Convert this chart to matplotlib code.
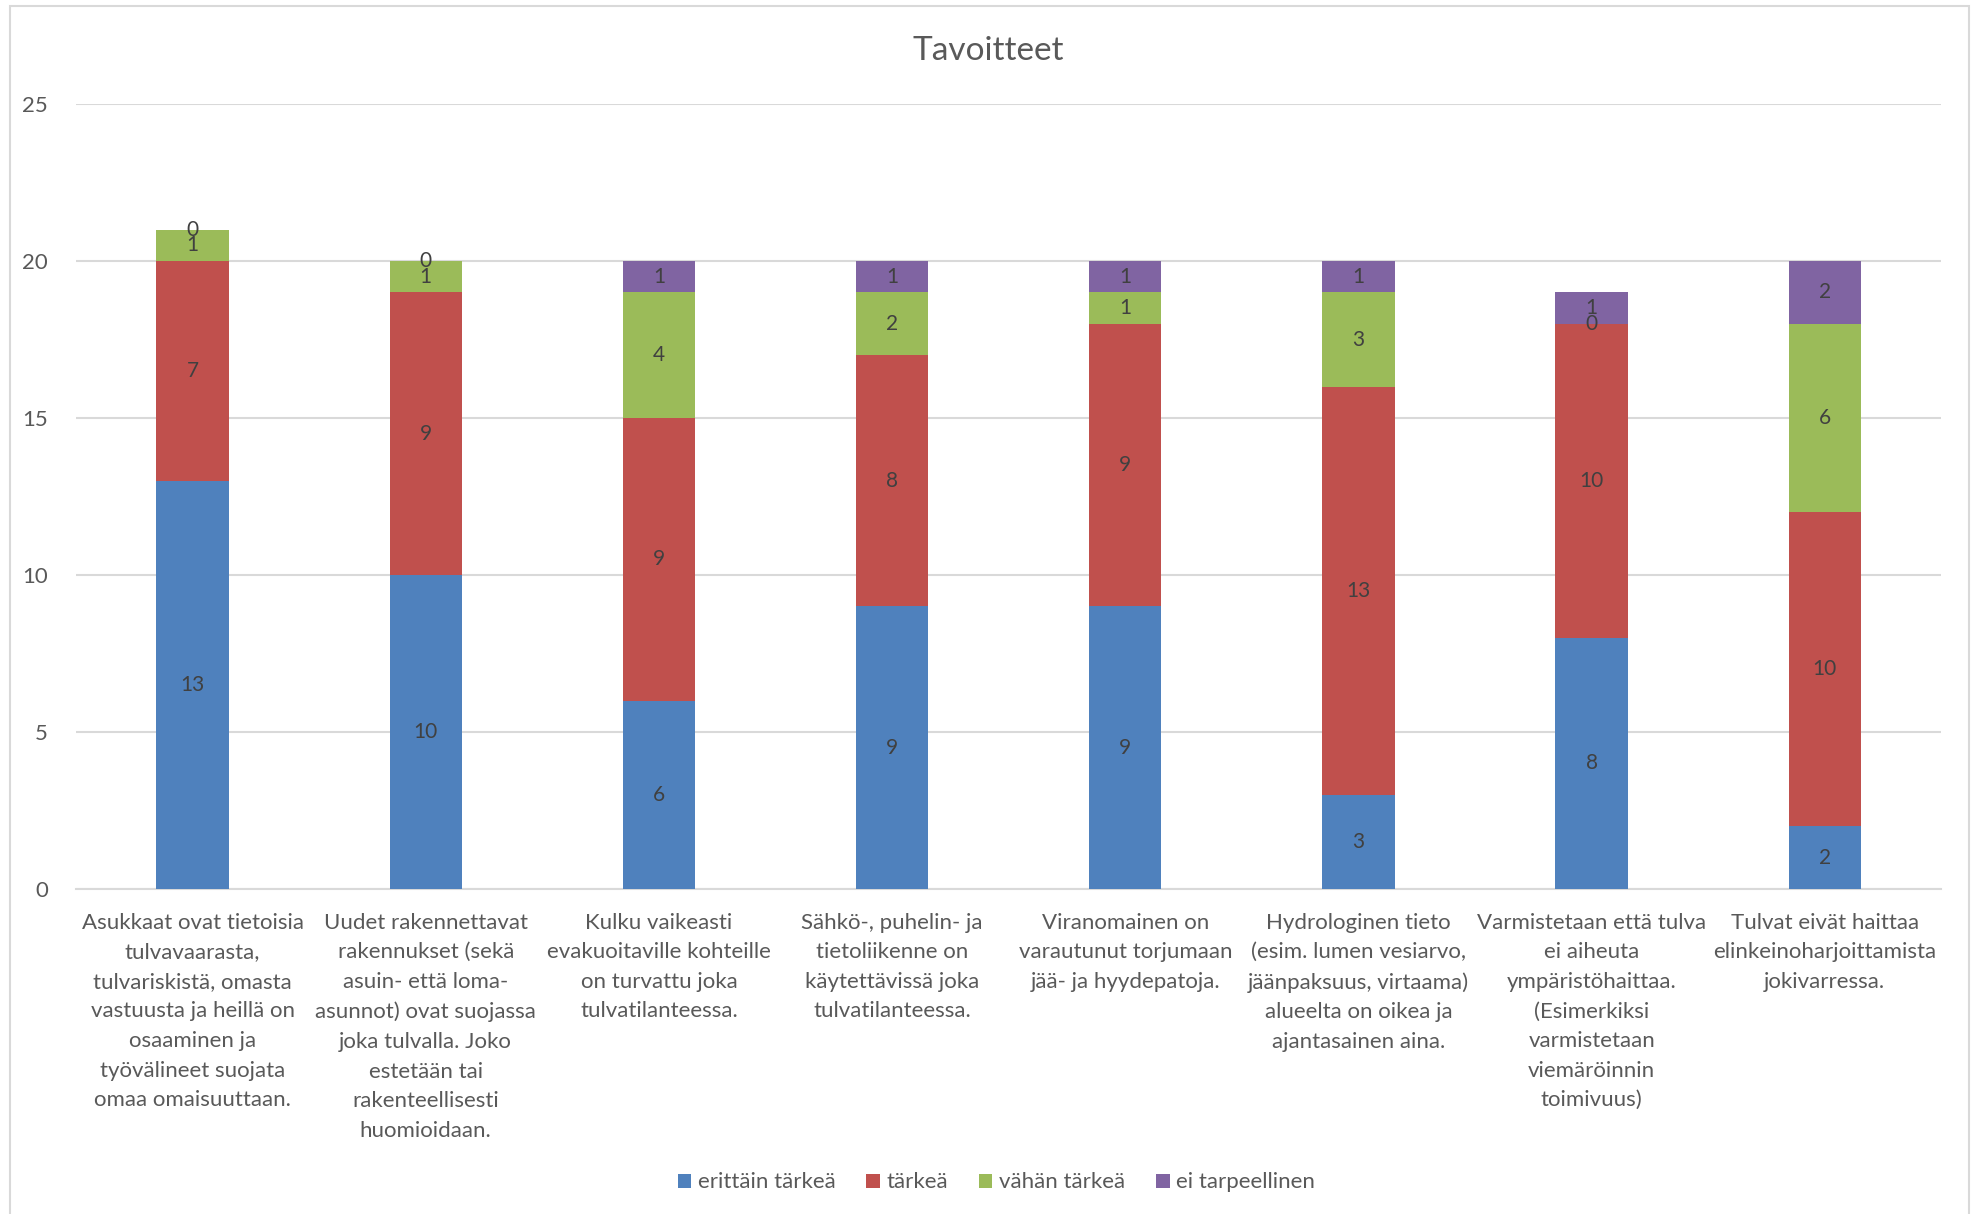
import numpy as np
import matplotlib.pyplot as plt
from matplotlib.patches import Rectangle

plt.rcParams['font.family'] = ['Lato', 'DejaVu Sans']

categories = [
    "Asukkaat ovat tietoisia\ntulvavaarasta,\ntulvariskistä, omasta\nvastuusta ja heillä on\nosaaminen ja\ntyövälineet suojata\nomaa omaisuuttaan.",
    "Uudet rakennettavat\nrakennukset (sekä\nasuin- että loma-\nasunnot) ovat suojassa\njoka tulvalla. Joko\nestetään tai\nrakenteellisesti\nhuomioidaan.",
    "Kulku vaikeasti\nevakuoitaville kohteille\non turvattu joka\ntulvatilanteessa.",
    "Sähkö-, puhelin- ja\ntietoliikenne on\nkäytettävissä joka\ntulvatilanteessa.",
    "Viranomainen on\nvarautunut torjumaan\njää- ja hyydepatoja.",
    "Hydrologinen tieto\n(esim. lumen vesiarvo,\njäänpaksuus, virtaama)\nalueelta on oikea ja\najantasainen aina.",
    "Varmistetaan että tulva\nei aiheuta\nympäristöhaittaa.\n(Esimerkiksi\nvarmistetaan\nviemäröinnin\ntoimivuus)",
    "Tulvat eivät haittaa\nelinkeinoharjoittamista\njokivarressa.",
]
series_names = ["erittäin tärkeä", "tärkeä", "vähän tärkeä", "ei tarpeellinen"]
erittain_tarkea = [13, 10, 6, 9, 9, 3, 8, 2]
tarkea = [7, 9, 9, 8, 9, 13, 10, 10]
vahan_tarkea = [1, 1, 4, 2, 1, 3, 0, 6]
ei_tarpeellinen = [0, 0, 1, 1, 1, 1, 1, 2]
colors = ["#4F81BD", "#C0504D", "#9BBB59", "#8064A2"]

text_col = "#595959"
label_col = "#404040"
grid_col = "#D9D9D9"

fig = plt.figure(figsize=(19.77, 12.14), dpi=100)
ax = fig.add_axes([0.0384, 0.2677, 0.9436, 0.6466])

# chart frame
fig.patches.append(Rectangle((0.005, -0.01), 0.991, 1.005, transform=fig.transFigure,
                             fill=False, edgecolor=grid_col, linewidth=1.5))

x = np.arange(len(categories))
bottom = np.zeros(len(categories))
for name, vals, c in zip(series_names, [erittain_tarkea, tarkea, vahan_tarkea, ei_tarpeellinen], colors):
    vals = np.array(vals, dtype=float)
    ax.bar(x, vals, width=0.31, bottom=bottom, color=c, label=name, zorder=3)
    for xi, b, v in zip(x, bottom, vals):
        ax.text(xi, b + v / 2, f"{int(v)}", ha="center", va="center",
                fontsize=15, color=label_col, zorder=4)
    bottom += vals

ax.set_xlim(-0.5, len(categories) - 0.5)
ax.set_ylim(0, 25)
ax.set_yticks([0, 5, 10, 15, 20, 25])
ax.yaxis.grid(True, color=grid_col, linewidth=1.5, zorder=0)
ax.set_axisbelow(True)
for s in ["top", "right", "left"]:
    ax.spines[s].set_visible(False)
ax.spines["bottom"].set_color(grid_col)
ax.spines["bottom"].set_linewidth(1.5)
ax.tick_params(axis="both", length=0, colors=text_col, labelsize=16)
ax.tick_params(axis="y", pad=20)
ax.set_xticks(x)
ax.set_xticklabels(categories, fontsize=16, color=text_col, va="top")
ax.tick_params(axis="x", pad=17)
for lab in ax.get_xticklabels():
    lab.set_linespacing(1.6)

fig.text(0.5, 0.958, "Tavoitteet", ha="center", va="center", fontsize=24, color=text_col)

ax.legend(loc="center", bbox_to_anchor=(0.504, 0.026), bbox_transform=fig.transFigure,
          ncol=4, frameon=False, fontsize=16, labelcolor=text_col,
          handlelength=0.6, handleheight=0.6, handletextpad=0.3, columnspacing=1.4)

fig.savefig("out.png", dpi=100, facecolor="white")
